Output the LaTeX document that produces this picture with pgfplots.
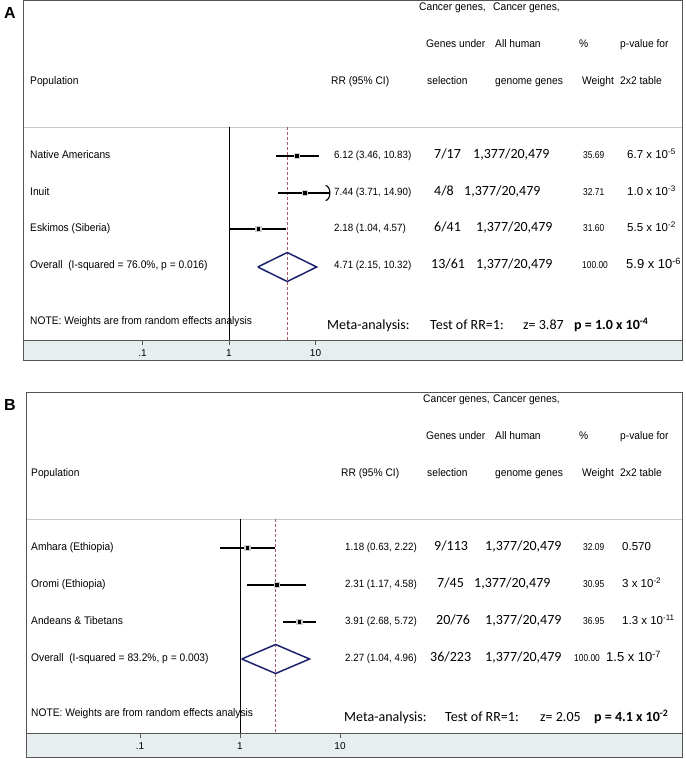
\documentclass[border=0pt]{standalone}
\usepackage{pgfplots}
\pgfplotsset{compat=1.18}
\usetikzlibrary{arrows.meta}
\usepackage{fontspec}
\setmainfont{Liberation Sans}
\newfontfamily\calib{Carlito}
\newfontfamily\nar[FakeStretch=0.84]{Liberation Sans}
\newfontfamily\hdr[FakeStretch=0.93]{Liberation Sans}
\definecolor{boxc}{RGB}{85,85,85}
\definecolor{stripc}{RGB}{230,238,240}
\definecolor{hlinec}{RGB}{200,200,200}
\definecolor{dashc}{RGB}{165,90,100}
\definecolor{navy}{RGB}{30,35,110}
\newcommand\Hd[3]{\node[anchor=mid west,inner sep=0pt,font=\hdr\fontsize{11}{13}\selectfont] at (#1pt,-#2pt) {#3};}
\newcommand\Nr[3]{\node[anchor=mid west,inner sep=0pt,font=\hdr\fontsize{10.5}{12}\selectfont] at (#1pt,-#2pt) {#3};}
\newcommand\Wt[3]{\node[anchor=mid west,inner sep=0pt,font=\nar\fontsize{10}{12}\selectfont] at (#1pt,-#2pt) {#3};}
\newcommand\Cl[3]{\node[anchor=mid west,inner sep=0pt,font=\calib\fontsize{14}{16}\selectfont] at (#1pt,-#2pt) {#3};}
\newcommand\Pv[3]{\node[anchor=mid west,inner sep=0pt,font=\fontsize{11.5}{13}\selectfont] at (#1pt,-#2pt) {#3};}
\newcommand\Pb[3]{\node[anchor=mid west,inner sep=0pt,font=\fontsize{13}{15}\selectfont] at (#1pt,-#2pt) {#3};}
\newcommand\sps[1]{\textsuperscript{#1}}
\pgfplotsset{
  myforest/.style={
    scale only axis,
    axis x line=middle, axis y line=none,
    axis line style={draw=boxc, line width=0.9pt, -},
    inner axis line style={-},
    xtick={0.1,1,10}, xticklabels={.1,1,10}, xminorticks=false,
    tick align=outside, major tick length=5pt,
    tick style={boxc, line width=0.6pt},
    xticklabel style={font=\fontsize{10}{12}\selectfont, inner sep=1pt, yshift=-3pt},
    clip=false,
  },
  myci/.style={black, line width=1.3pt},
  mywbox/.style={only marks, mark=square*, mark size=2.6pt, mark options={fill=gray!40, draw=gray!40}},
  mypt/.style={only marks, mark=square*, mark size=1.4pt, mark options={fill=black, draw=black}},
}
\begin{document}
\begin{tikzpicture}
\useasboundingbox (0pt,0pt) rectangle (685pt,-759pt);
% ---------- Panel A decorations
\fill[stripc] (23pt,-340pt) rectangle (682pt,-360pt);
\draw[hlinec, line width=0.8pt] (23pt,-127pt) -- (682pt,-127pt);
\begin{axis}[xmode=log, myforest, at={(23pt,-360pt)}, anchor=south west,
  width=659pt, height=359pt,
  xmin=0.004154, xmax=172584, ymin=-20, ymax=339]
  \addplot[black, line width=0.7pt] coordinates {(1,213) (1,0)};
  \addplot[dashc, line width=0.7pt, dash pattern=on 3pt off 2pt] coordinates {(4.71,213) (4.71,0)};
  \addplot[myci] coordinates {(3.46,184) (10.83,184)};
  \addplot[myci, -{Arc Barb[width=16pt,length=5pt,line width=1.1pt]}] coordinates {(3.71,147) (14.90,147)};
  \addplot[myci] coordinates {(1.04,111) (4.57,111)};
  \addplot[mywbox] coordinates {(6.12,184) (7.44,147) (2.18,111)};
  \addplot[mypt] coordinates {(6.12,184) (7.44,147) (2.18,111)};
  \addplot[navy, line width=1.5pt] coordinates {(2.15,73) (4.71,87.5) (10.32,73) (4.71,58.5) (2.15,73)};
\end{axis}
\draw[boxc, line width=1pt] (23pt,-1pt) rectangle (682pt,-360pt);
% ---------- Panel B decorations
\fill[stripc] (26pt,-733pt) rectangle (682pt,-757pt);
\draw[hlinec, line width=0.8pt] (26pt,-519pt) -- (682pt,-519pt);
\begin{axis}[xmode=log, myforest, at={(26pt,-757pt)}, anchor=south west,
  width=656pt, height=365pt,
  xmin=0.007244, xmax=26303, ymin=-24, ymax=341]
  \addplot[black, line width=0.7pt] coordinates {(1,214) (1,0)};
  \addplot[dashc, line width=0.7pt, dash pattern=on 3pt off 2pt] coordinates {(2.27,214) (2.27,0)};
  \addplot[myci] coordinates {(0.63,185) (2.22,185)};
  \addplot[myci] coordinates {(1.17,148) (4.58,148)};
  \addplot[myci] coordinates {(2.68,111) (5.72,111)};
  \addplot[mywbox] coordinates {(1.18,185) (2.31,148) (3.91,111)};
  \addplot[mypt] coordinates {(1.18,185) (2.31,148) (3.91,111)};
  \addplot[navy, line width=1.5pt] coordinates {(1.04,74) (2.27,88.5) (4.96,74) (2.27,59.5) (1.04,74)};
\end{axis}
\draw[boxc, line width=1pt] (26pt,-392pt) rectangle (682pt,-757pt);
% ---------- Panel A text
\node[font=\bfseries\fontsize{16}{16}\selectfont] at (10pt,-13pt) {A};
\Hd{419}{8}{Cancer genes,}
\Hd{493}{8}{Cancer genes,}
\Hd{426}{45}{Genes under}
\Hd{495}{45}{All human}
\Hd{579}{45}{\%}
\Hd{620}{45}{p-value for}
\Hd{30}{82}{Population}
\Hd{331}{82}{RR (95\% CI)}
\Hd{427}{82}{selection}
\Hd{495}{82}{genome genes}
\Hd{582}{82}{Weight}
\Hd{620}{82}{2x2 table}
\Hd{30}{156}{Native Americans}
\Hd{30}{193}{Inuit}
\Hd{30}{229}{Eskimos (Siberia)}
\Hd{30}{266}{Overall\ \ (I-squared = 76.0\%, p = 0.016)}
\Nr{334}{156}{6.12 (3.46, 10.83)}
\Nr{334}{193}{7.44 (3.71, 14.90)}
\Nr{334}{229}{2.18 (1.04, 4.57)}
\Nr{334}{266}{4.71 (2.15, 10.32)}
\Cl{434}{156}{7/17}
\Cl{434}{193}{4/8}
\Cl{434}{229}{6/41}
\Cl{431}{266}{13/61}
\Cl{473}{156}{1,377/20,479}
\Cl{464}{193}{1,377/20,479}
\Cl{476}{229}{1,377/20,479}
\Cl{476}{266}{1,377/20,479}
\Wt{583}{156}{35.69}
\Wt{583}{193}{32.71}
\Wt{583}{229}{31.60}
\Wt{582}{266}{100.00}
\Pv{627}{156}{6.7 x 10\sps{-5}}
\Pv{627}{193}{1.0 x 10\sps{-3}}
\Pv{627}{229}{5.5 x 10\sps{-2}}
\Pb{626}{266}{5.9 x 10\sps{-6}}
\Hd{30}{322}{NOTE: Weights are from random effects analysis}
\Cl{327}{327}{Meta-analysis:}
\Cl{430}{327}{Test of RR=1:}
\Cl{523}{327}{z= 3.87}
\Cl{574}{327}{\bfseries p = 1.0 x 10\sps{-4}}
% ---------- Panel B text
\node[font=\bfseries\fontsize{16}{16}\selectfont] at (10pt,-405pt) {B};
\Hd{423}{400}{Cancer genes,}
\Hd{493}{400}{Cancer genes,}
\Hd{426}{437}{Genes under}
\Hd{495}{437}{All human}
\Hd{579}{437}{\%}
\Hd{620}{437}{p-value for}
\Hd{31}{474}{Population}
\Hd{341}{474}{RR (95\% CI)}
\Hd{427}{474}{selection}
\Hd{495}{474}{genome genes}
\Hd{582}{474}{Weight}
\Hd{620}{474}{2x2 table}
\Hd{31}{548}{Amhara (Ethiopia)}
\Hd{31}{585}{Oromi (Ethiopia)}
\Hd{31}{622}{Andeans \& Tibetans}
\Hd{31}{659}{Overall\ \ (I-squared = 83.2\%, p = 0.003)}
\Nr{345}{548}{1.18 (0.63, 2.22)}
\Nr{345}{585}{2.31 (1.17, 4.58)}
\Nr{345}{622}{3.91 (2.68, 5.72)}
\Nr{345}{659}{2.27 (1.04, 4.96)}
\Cl{434}{548}{9/113}
\Cl{437}{585}{7/45}
\Cl{436}{622}{20/76}
\Cl{430}{659}{36/223}
\Cl{485}{548}{1,377/20,479}
\Cl{474}{585}{1,377/20,479}
\Cl{485}{622}{1,377/20,479}
\Cl{485}{659}{1,377/20,479}
\Wt{583}{548}{32.09}
\Wt{583}{585}{30.95}
\Wt{583}{622}{36.95}
\Wt{574}{659}{100.00}
\Pv{622}{548}{0.570}
\Pv{622}{585}{3 x 10\sps{-2}}
\Pv{622}{622}{1.3 x 10\sps{-11}}
\Pb{606}{659}{1.5 x 10\sps{-7}}
\Hd{31}{714}{NOTE: Weights are from random effects analysis}
\Cl{344}{719}{Meta-analysis:}
\Cl{445}{719}{Test of RR=1:}
\Cl{540}{719}{z= 2.05}
\Cl{594}{719}{\bfseries p = 4.1 x 10\sps{-2}}
\end{tikzpicture}
\end{document}
